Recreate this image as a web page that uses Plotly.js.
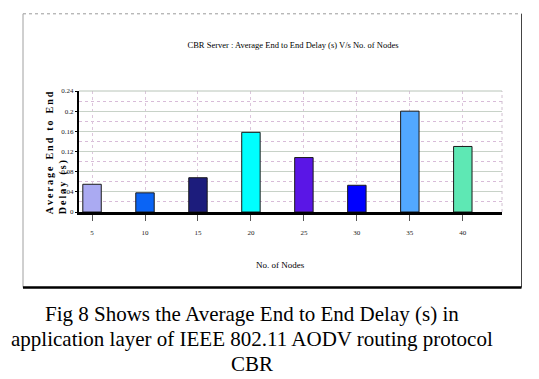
<!DOCTYPE html>
<html>
<head>
<meta charset="utf-8">
<script src="https://cdn.plot.ly/plotly-3.0.1.min.js"></script>
<style>html,body{margin:0;padding:0;background:#fff;}#chart{width:539px;height:379px;}</style>
</head>
<body>
<div id="chart"></div>
<script>
// Data
const nodes = [5, 10, 15, 20, 25, 30, 35, 40];
const delay = [0.055, 0.038, 0.068, 0.158, 0.108, 0.053, 0.200, 0.130];
const barColors = ['#aaaaf2', '#0a64f5', '#1c1c7c', '#00ffff', '#5a16e6', '#0000ff', '#52a8ff', '#5ee8b4'];
const yTicks = [0, 0.04, 0.08, 0.12, 0.16, 0.2, 0.24];

const chartTitle = 'CBR Server : Average End to End Delay (s) V/s No. of Nodes';
const xTitle = 'No. of Nodes';
const T = '\u2009';
const spaced = s => s.split(' ').map(w => w.split('').join(T)).join('\u00a0\u00a0' + T);
const yTitle = spaced('Average End to End') + '<br>' + spaced('Delay (s)');
const captionLines = [
  'Fig 8 Shows the Average End to End Delay (s) in',
  'application layer of IEEE 802.11 AODV routing protocol',
  'CBR'
];

const serif = 'Liberation Serif, Times New Roman, serif';

// plot area: x 79..502 px, y 91..211.7 px
const px = x => (x - 79) / 423;
const py = y => (211.7 - y) / 120.7;

const trace = {
  type: 'bar',
  x: nodes,
  y: delay,
  width: 1.74,
  marker: { color: barColors, line: { color: '#1a1a1a', width: 1 } },
  hoverinfo: 'x+y'
};

const captionY = [313.5, 338.5, 363];

const layout = {
  width: 539, height: 379,
  margin: { l: 79, r: 37, t: 91, b: 167, pad: 0 },
  paper_bgcolor: '#ffffff', plot_bgcolor: '#ffffff',
  showlegend: false,
  title: {
    text: chartTitle,
    font: { family: serif, size: 8.5, color: '#000' },
    xref: 'paper', yref: 'paper', x: px(293), y: py(63.5), xanchor: 'center', yanchor: 'middle'
  },
  xaxis: {
    range: [3.77, 43.7], tickmode: 'array', tickvals: nodes, ticktext: nodes.map(String),
    showgrid: true, gridcolor: '#dcc6dc', griddash: 'dot', gridwidth: 1,
    ticks: 'outside', ticklen: 6, tickcolor: '#555', tickwidth: 1,
    ticklabelstandoff: 6,
    tickfont: { family: serif, size: 7, color: '#222' },
    showline: true, linecolor: '#000', linewidth: 3, zeroline: false, fixedrange: true
  },
  xaxis2: {
    overlaying: 'x', anchor: 'y', range: [3.77, 43.7],
    tickmode: 'array', tickvals: [10, 20, 30, 40],
    showgrid: true, gridcolor: '#c8d2c8', gridwidth: 1,
    showticklabels: false, ticks: '', showline: false, zeroline: false, fixedrange: true
  },
  yaxis: {
    range: [0, 0.24], tickmode: 'array', tickvals: yTicks, ticktext: yTicks.map(String),
    showgrid: true, gridcolor: '#c8d2c8', gridwidth: 1,
    minor: { dtick: 0.02, tick0: 0, showgrid: true, gridcolor: '#d8bcd8', griddash: 'dot', ticks: '' },
    ticks: 'outside', ticklen: 2, tickcolor: '#000',
    tickfont: { family: serif, size: 7, color: '#222' },
    showline: true, linecolor: '#000', linewidth: 2, zeroline: false, fixedrange: true
  },
  shapes: [
    // outer figure frame
    { type: 'line', xref: 'paper', yref: 'paper', x0: px(23), x1: px(521.5), y0: py(14), y1: py(14), line: { color: '#9a9a9a', width: 1, dash: 'dot' } },
    { type: 'line', xref: 'paper', yref: 'paper', x0: px(23), x1: px(23), y0: py(287), y1: py(14), line: { color: '#a0a0a0', width: 1 } },
    { type: 'line', xref: 'paper', yref: 'paper', x0: px(521.5), x1: px(521.5), y0: py(287), y1: py(14), line: { color: '#444', width: 1 } },
    { type: 'line', xref: 'paper', yref: 'paper', x0: px(23), x1: px(521.5), y0: py(287), y1: py(287), line: { color: '#000', width: 2.5 } },
    // plot-area border (top solid, right dotted)
    { type: 'line', xref: 'paper', yref: 'paper', x0: 1, x1: 1, y0: 0, y1: 1, line: { color: '#d0c0d0', width: 1, dash: 'dot' } },
    { type: 'line', xref: 'paper', yref: 'paper', x0: 0, x1: 1, y0: 1, y1: 1, line: { color: '#b8c4b8', width: 1 } }
  ],
  annotations: [
    {
      text: yTitle, textangle: -90, align: 'left',
      xref: 'paper', yref: 'paper', x: px(56.5), y: py(152.5), xanchor: 'center', yanchor: 'middle',
      showarrow: false, font: { family: serif, size: 10, color: '#000', weight: 'bold' }
    },
    {
      text: xTitle, xref: 'paper', yref: 'paper', x: px(280), y: py(265), xanchor: 'center', yanchor: 'middle',
      showarrow: false, font: { family: serif, size: 9, color: '#000' }
    }
  ].concat(captionLines.map((t, i) => ({
    text: t, align: 'center',
    xref: 'paper', yref: 'paper', x: px(252), y: py(captionY[i]), xanchor: 'center', yanchor: 'middle',
    showarrow: false, font: { family: serif, size: 21, color: '#000' }
  })))
};

Plotly.newPlot('chart', [trace], layout, { displayModeBar: false, staticPlot: true });
</script>
</body>
</html>
